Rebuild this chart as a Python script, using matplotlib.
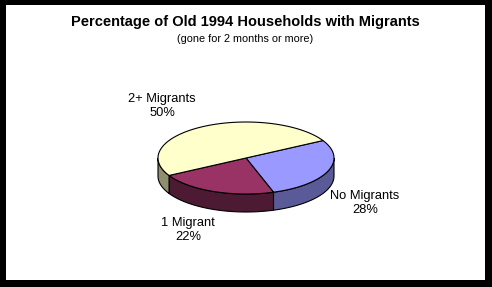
import numpy as np
import matplotlib
matplotlib.use("Agg")
import matplotlib.pyplot as plt
from matplotlib.patches import Polygon, Rectangle

# data, in the order the slices go clockwise
labels = ["No Migrants", "1 Migrant", "2+ Migrants"]
values = [28, 22, 50]
top_colors = ["#9999FF", "#993366", "#FFFFCC"]
side_colors = ["#5A5A99", "#4D1A33", "#8F8F70"]

title = "Percentage of Old 1994 Households with Migrants"
subtitle = "(gone for 2 months or more)"

plt.rcParams["font.family"] = ["Liberation Sans", "DejaVu Sans"]

fig = plt.figure(figsize=(4.92, 2.87), dpi=100, facecolor="black")
ax = fig.add_axes([0, 0, 1, 1])
ax.set_xlim(0, 492)
ax.set_ylim(287, 0)
ax.axis("off")
ax.add_patch(Rectangle((6, 5), 479, 275, facecolor="white", edgecolor="none"))

ax.text(245, 22, title, ha="center", va="center", fontsize=10.5, fontweight="bold")
ax.text(245, 39, subtitle, ha="center", va="center", fontsize=7.8)

# 3d pie geometry (pixels)
cx, cy = 246, 158
rx, ry = 88, 36
depth = 18
start = 29.0


def pt(a, dz=0):
    r = np.radians(a)
    return cx + rx * np.cos(r), cy - ry * np.sin(r) + dz


angles = [start]
for v in values:
    angles.append(angles[-1] - v / 100 * 360)

# side walls (front half only)
for i in range(len(values)):
    a1, a2 = angles[i + 1], angles[i]
    for k in range(-2, 2):
        lo, hi = max(a1, -180 + 360 * k), min(a2, 0 + 360 * k)
        if hi <= lo:
            continue
        t = np.linspace(lo, hi, 60)
        upper = [pt(a) for a in t]
        lower = [pt(a, depth) for a in t[::-1]]
        ax.add_patch(Polygon(upper + lower, closed=True, facecolor=side_colors[i],
                             edgecolor="black", linewidth=0.8))

# top faces
for i in range(len(values)):
    t = np.linspace(angles[i + 1], angles[i], 120)
    verts = [(cx, cy)] + [pt(a) for a in t]
    ax.add_patch(Polygon(verts, closed=True, facecolor=top_colors[i],
                         edgecolor="black", linewidth=0.8))

# labels
label_pos = [(365, 203), (188, 230), (162, 106)]
for lab, v, (x, y) in zip(labels, values, label_pos):
    ax.text(x, y, f"{lab}\n{v}%", ha="center", va="center", fontsize=9.3,
            linespacing=1.25)

fig.savefig("out.png", dpi=100, facecolor="black")
